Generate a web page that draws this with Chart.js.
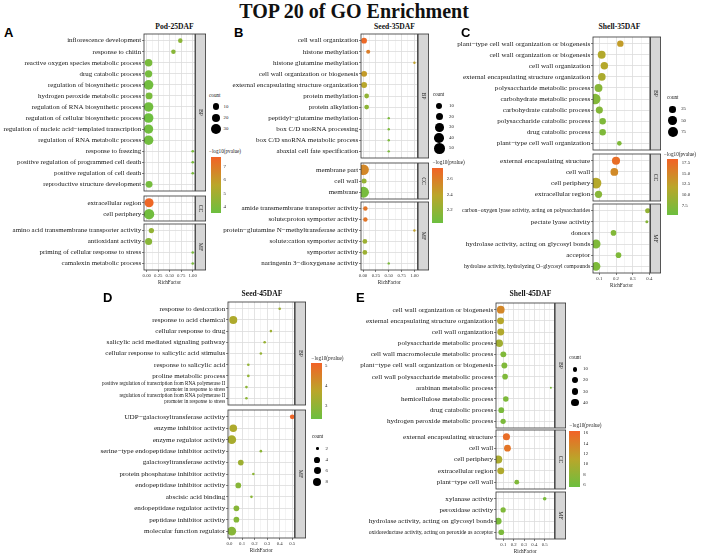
<!DOCTYPE html>
<html>
<head>
<meta charset="utf-8">
<script src="https://cdn.jsdelivr.net/npm/chart.js@4.4.0/dist/chart.umd.min.js"></script>
<style>
  body { margin: 0; background: #fff; width: 708px; height: 553px; position: relative; overflow: hidden; }
  canvas { position: absolute; }
</style>
</head>
<body>
<script>
// ---- data ----
const termsA = ['inflorescence development', 'response to chitin', 'reactive oxygen species metabolic process', 'drug catabolic process', 'regulation of biosynthetic process', 'hydrogen peroxide metabolic process', 'regulation of RNA biosynthetic process', 'regulation of cellular biosynthetic process', 'regulation of nucleic acid\u2212templated transcription', 'regulation of RNA metabolic process', 'response to freezing', 'positive regulation of programmed cell death', 'positive regulation of cell death', 'reproductive structure development', 'extracellular region', 'cell periphery', 'amino acid transmembrane transporter activity', 'antioxidant activity', 'priming of cellular response to stress', 'camalexin metabolic process'];
const ontA = ['BP','BP','BP','BP','BP','BP','BP','BP','BP','BP','BP','BP','BP','BP','CC','CC','MF','MF','MF','MF'];
const richA = [0.73, 0.58, 0.04, 0.04, 0.04, 0.05, 0.04, 0.04, 0.04, 0.04, 1, 1, 1, 0.05, 0.05, 0.05, 0.1, 0.04, 1, 1];
const countA = [3, 3, 14, 13, 28, 11, 27, 28, 25, 27, 1, 1, 1, 11, 24, 34, 5, 12, 1, 1];
const logpA = [4.4, 4.3, 3.9, 3.8, 3.7, 3.9, 3.7, 3.6, 3.7, 3.7, 3.9, 3.9, 3.9, 3.8, 7.6, 3.7, 4.6, 4.3, 3.9, 3.9];

const termsB = ['cell wall organization', 'histone methylation', 'histone glutamine methylation', 'cell wall organization or biogenesis', 'external encapsulating structure organization', 'protein methylation', 'protein alkylation', 'peptidyl\u2212glutamine methylation', 'box C/D snoRNA processing', 'box C/D snoRNA metabolic process', 'abaxial cell fate specification', 'membrane part', 'cell wall', 'membrane', 'amide transmembrane transporter activity', 'solute:proton symporter activity', 'protein\u2212glutamine N\u2212methyltransferase activity', 'solute:cation symporter activity', 'symporter activity', 'naringenin 3\u2212dioxygenase activity'];
const ontB = ['BP','BP','BP','BP','BP','BP','BP','BP','BP','BP','BP','CC','CC','CC','MF','MF','MF','MF','MF','MF'];
const richB = [0.02, 0.1, 1, 0.02, 0.02, 0.07, 0.07, 0.5, 0.5, 0.5, 0.5, 0.01, 0.02, 0.01, 0.045, 0.045, 1, 0.035, 0.035, 0.5];
const countB = [9, 3, 1, 10, 10, 5, 5, 1, 1, 1, 1, 50, 6, 52, 4, 4, 1, 5, 5, 1];
const logpB = [2.72, 2.6, 2.42, 2.45, 2.38, 2.2, 2.18, 2.1, 2.1, 2.1, 2.1, 2.55, 2.22, 2.08, 2.65, 2.65, 2.42, 2.25, 2.25, 2.1];

const termsC = ['plant\u2212type cell wall organization or biogenesis', 'cell wall organization or biogenesis', 'cell wall organization', 'external encapsulating structure organization', 'polysaccharide metabolic process', 'carbohydrate metabolic process', 'carbohydrate catabolic process', 'polysaccharide catabolic process', 'drug catabolic process', 'plant\u2212type cell wall organization', 'external encapsulating structure', 'cell wall', 'cell periphery', 'extracellular region', 'carbon\u2212oxygen lyase activity, acting on polysaccharides', 'pectate lyase activity', 'donors', 'hydrolase activity, acting on glycosyl bonds', 'acceptor', 'hydrolase activity, hydrolyzing O\u2212glycosyl compounds'];
const ontC = ['BP','BP','BP','BP','BP','BP','BP','BP','BP','BP','CC','CC','CC','CC','MF','MF','MF','MF','MF','MF'];
const richC = [0.226, 0.114, 0.13, 0.115, 0.095, 0.075, 0.1, 0.12, 0.12, 0.22, 0.2, 0.19, 0.08, 0.095, 0.39, 0.385, 0.185, 0.08, 0.215, 0.08];
const countC = [25, 42, 36, 38, 42, 92, 32, 26, 26, 12, 45, 40, 95, 34, 14, 8, 18, 60, 18, 55];
const logpC = [12.8, 11.2, 11.4, 10.6, 7.6, 7.3, 7.4, 7.0, 7.0, 7.0, 17.2, 14.5, 11.4, 7.6, 8.6, 7.6, 7.2, 7.0, 7.0, 6.8];

const termsD = ['response to desiccation', 'response to acid chemical', 'cellular response to drug', 'salicylic acid mediated signaling pathway', 'cellular response to salicylic acid stimulus', 'response to salicylic acid', 'proline metabolic process', 'positive regulation of transcription from RNA polymerase II\npromoter in response to stress', 'regulation of transcription from RNA polymerase II\npromoter in response to stress', 'UDP\u2212galactosyltransferase activity', 'enzyme inhibitor activity', 'enzyme regulator activity', 'serine\u2212type endopeptidase inhibitor activity', 'galactosyltransferase activity', 'protein phosphatase inhibitor activity', 'endopeptidase inhibitor activity', 'abscisic acid binding', 'endopeptidase regulator activity', 'peptidase inhibitor activity', 'molecular function regulator'];
const ontD = ['BP','BP','BP','BP','BP','BP','BP','BP','BP','MF','MF','MF','MF','MF','MF','MF','MF','MF','MF','MF'];
const richD = [0.40, 0.03, 0.33, 0.28, 0.25, 0.15, 0.15, 0.135, 0.135, 0.5, 0.03, 0.018, 0.25, 0.09, 0.19, 0.07, 0.175, 0.055, 0.055, 0.018];
const countD = [2, 8, 2, 2, 2, 2, 2, 2, 2, 3, 7, 10, 2, 4, 2, 4, 2, 4, 4, 10];
const logpD = [3.2, 3.5, 3.2, 3.1, 3.05, 3.0, 3.0, 2.9, 2.9, 5.05, 3.5, 3.4, 2.9, 3.2, 2.9, 2.8, 2.85, 2.8, 2.75, 2.8];

const termsE = ['cell wall organization or biogenesis', 'external encapsulating structure organization', 'cell wall organization', 'polysaccharide metabolic process', 'cell wall macromolecule metabolic process', 'plant\u2212type cell wall organization or biogenesis', 'cell wall polysaccharide metabolic process', 'arabinan metabolic process', 'hemicellulose metabolic process', 'drug catabolic process', 'hydrogen peroxide metabolic process', 'external encapsulating structure', 'cell wall', 'cell periphery', 'extracellular region', 'plant\u2212type cell wall', 'xylanase activity', 'peroxidase activity', 'hydrolase activity, acting on glycosyl bonds', 'oxidoreductase activity, acting on peroxide as acceptor'];
const ontE = ['BP','BP','BP','BP','BP','BP','BP','BP','BP','BP','BP','CC','CC','CC','CC','CC','MF','MF','MF','MF'];
const richE = [0.075, 0.073, 0.075, 0.06, 0.1, 0.11, 0.117, 0.56, 0.124, 0.08, 0.098, 0.13, 0.14, 0.05, 0.075, 0.23, 0.5, 0.098, 0.05, 0.08];
const countE = [40, 30, 30, 38, 20, 20, 18, 3, 17, 19, 15, 32, 29, 46, 30, 12, 6, 15, 30, 18];
const logpE = [13.5, 10.8, 10.4, 9.3, 7.0, 7.0, 6.9, 6.5, 6.8, 6.6, 6.7, 15.6, 15.0, 10.0, 10.3, 7.0, 6.5, 7.0, 6.6, 6.7];

// legend breaks
const countBreaksA = [10, 20, 30], colBreaksA = [4, 5, 6, 7];
const countBreaksB = [10, 20, 30, 40, 50], colBreaksB = [2.2, 2.4, 2.6];
const countBreaksC = [25, 50, 75], colBreaksC = [7.5, 10, 12.5, 15, 17.5];
const countBreaksD = [2, 4, 6, 8], colBreaksD = [3, 4, 5];
const countBreaksE = [10, 20, 30, 40], colBreaksE = [6, 8, 10, 12, 14, 16];

// ---- layout ----
const SERIF = '"Liberation Serif", "Times New Roman", serif';
Chart.defaults.font.family = SERIF;

const panels = [
  { letter: 'A', lx: 4, ly: 32, title: 'Pod-25DAF', tx: 174.5, ty: 27,
    terms: termsA, ont: ontA, rich: richA, count: countA, logp: logpA,
    canvasLeft: 0, plotL: 144, plotR: 195, stripW: 10, xmin: -0.06, xmax: 1.05,
    xmajor: [0, 0.25, 0.5, 0.75, 1], xdec: 2, font: 6.9,
    facets: { BP: [34.2, 191.4], CC: [196, 220.7], MF: [223.6, 269.2] },
    size: [1, 34, 1.3, 5.2], dom: [3.56, 7.74],
    countBreaks: countBreaksA, colBreaks: colBreaksA, colDec: 0,
    leg: { ct: [209, 96], cx: 216, cy0: 106.7, cstep: 11.3, clx: 223.5,
           lt: [209, 152], bar: [210.7, 156.7, 10, 56.6], blx: 223.5 } },
  { letter: 'B', lx: 234, ly: 32, title: 'Seed-35DAF', tx: 394.5, ty: 27,
    terms: termsB, ont: ontB, rich: richB, count: countB, logp: logpB,
    canvasLeft: 215, plotL: 361, plotR: 417, stripW: 10.5, xmin: -0.04, xmax: 1.06,
    xmajor: [0, 0.25, 0.5, 0.75, 1], xdec: 2, font: 7.0,
    facets: { BP: [34.4, 158.6], CC: [162.6, 198.4], MF: [201.6, 269.5] },
    size: [1, 52, 1.2, 5.4], dom: [2.03, 2.75],
    countBreaks: countBreaksB, colBreaks: colBreaksB, colDec: 1,
    leg: { ct: [432.7, 94.5], cx: 439.3, cy0: 106, cstep: 10.6, clx: 449,
           lt: [432.7, 162.8], bar: [432, 168, 11, 55], blx: 446.7 } },
  { letter: 'C', lx: 461, ly: 32, title: 'Shell-35DAF', tx: 619.5, ty: 27,
    terms: termsC, ont: ontC, rich: richC, count: countC, logp: logpC,
    canvasLeft: 440, plotL: 593, plotR: 650, stripW: 10, xmin: 0.062, xmax: 0.404,
    xmajor: [0.1, 0.2, 0.3, 0.4], xdec: 1, font: 7.1,
    labelFont: { 'carbon\u2212oxygen lyase activity, acting on polysaccharides': 5.7,
                 'hydrolase activity, acting on glycosyl bonds': 7.1,
                 'hydrolase activity, hydrolyzing O\u2212glycosyl compounds': 5.7 },
    facets: { BP: [36.7, 149.3], CC: [154, 200.7], MF: [204, 273.4] },
    size: [8, 95, 1.5, 5.4], dom: [5.4, 18.3],
    countBreaks: countBreaksC, colBreaks: colBreaksC, colDec: 1,
    leg: { ct: [667, 98], cx: 672.7, cy0: 109.3, cstep: 11.2, clx: 681.2,
           lt: [664, 154.5], bar: [667.3, 159.3, 11, 55.7], blx: 681.7 } },
  { letter: 'D', lx: 103, ly: 297, title: 'Seed-45DAF', tx: 262, ty: 294,
    terms: termsD, ont: ontD, rich: richD, count: countD, logp: logpD,
    canvasLeft: 60, plotL: 228, plotR: 294, stripW: 10.5, xmin: -0.012, xmax: 0.518,
    xmajor: [0, 0.1, 0.2, 0.3, 0.4, 0.5], xdec: 1, font: 7.1,
    labelFont: { 'positive regulation of transcription from RNA polymerase II\npromoter in response to stress': 5.1,
                 'regulation of transcription from RNA polymerase II\npromoter in response to stress': 5.1 },
    facets: { BP: [302.3, 405.7], MF: [410, 538] },
    size: [2, 10, 1.3, 4.4], dom: [2.32, 5.12],
    countBreaks: countBreaksD, colBreaks: colBreaksD, colDec: 0,
    leg: { ct: [311.7, 437.3], cx: 317.3, cy0: 448.7, cstep: 11.1, clx: 325.5,
           lt: [311.5, 358.7], bar: [311, 363.3, 11, 56], blx: 325 } },
  { letter: 'E', lx: 356, ly: 297, title: 'Shell-45DAF', tx: 530.5, ty: 294,
    terms: termsE, ont: ontE, rich: richE, count: countE, logp: logpE,
    canvasLeft: 330, plotL: 496, plotR: 554, stripW: 10.5, xmin: 0.029, xmax: 0.595,
    xmajor: [0.1, 0.2, 0.3, 0.4, 0.5], xdec: 1, font: 7.1,
    labelFont: { 'oxidoreductase activity, acting on peroxide as acceptor': 5.7 },
    facets: { BP: [302.6, 427.4], CC: [430.3, 488.8], MF: [492, 538.7] },
    size: [3, 46, 1.0, 4.1], dom: [5.6, 16.5],
    countBreaks: countBreaksE, colBreaks: colBreaksE, colDec: 0,
    leg: { ct: [569.3, 358.3], cx: 575, cy0: 369.3, cstep: 11.1, clx: 583,
           lt: [569.5, 425.7], bar: [569.3, 430.7, 10.7, 56.6], blx: 583.3 } }
];

// ---- scales ----
const GREEN = [108, 191, 63], OLIVE = [186, 166, 42], ORANGE = [242, 98, 38];
function colorFor(v, dom) {
  let t = (v - dom[0]) / (dom[1] - dom[0]);
  t = Math.min(1, Math.max(0, t));
  const a = t < 0.5 ? GREEN : OLIVE, b = t < 0.5 ? OLIVE : ORANGE;
  const u = t < 0.5 ? t / 0.5 : (t - 0.5) / 0.5;
  return 'rgb(' + a.map((c, i) => Math.round(c + (b[i] - c) * u)).join(',') + ')';
}
function rgb(c) { return 'rgb(' + c.join(',') + ')'; }
function radiusFor(c, s) {
  const t = Math.max(0, (c - s[0]) / (s[1] - s[0]));
  return s[2] + (s[3] - s[2]) * Math.sqrt(t);
}

// panel border + facet strip
const stripPlugin = {
  id: 'strip',
  afterDraw(chart, args, opts) {
    const { ctx, chartArea: a } = chart;
    ctx.save();
    ctx.strokeStyle = '#333';
    ctx.lineWidth = 0.8;
    ctx.strokeRect(a.left, a.top, a.right - a.left, a.bottom - a.top);
    const sx = a.right + 0.6, sw = opts.width;
    ctx.fillStyle = '#d6d6d6';
    ctx.fillRect(sx, a.top, sw, a.bottom - a.top);
    ctx.strokeRect(sx, a.top, sw, a.bottom - a.top);
    ctx.translate(sx + sw / 2, (a.top + a.bottom) / 2);
    ctx.rotate(Math.PI / 2);
    ctx.fillStyle = '#1a1a1a';
    ctx.font = '5.8px ' + SERIF;
    ctx.textAlign = 'center';
    ctx.textBaseline = 'middle';
    ctx.fillText(opts.label, 0, 0);
    ctx.restore();
  }
};

function facetChart(P, ont, isLast) {
  const [top, bottom] = P.facets[ont];
  const idx = P.ont.map((o, i) => (o === ont ? i : -1)).filter(i => i >= 0);
  const labels = idx.map(i => P.terms[i]);
  const n = labels.length;
  const padT = 10, padB = isLast ? 0 : 10, xH = isLast ? 16 : 0;
  const left = P.canvasLeft;
  const padR = P.stripW + 4;
  const cv = document.createElement('canvas');
  cv.width = Math.ceil(P.plotR + padR - left);
  cv.height = Math.round(bottom - top + padT + padB + xH);
  cv.style.left = left + 'px';
  cv.style.top = (top - padT) + 'px';
  document.body.appendChild(cv);

  const step = P.xmajor[1] - P.xmajor[0];
  const xticks = [];
  P.xmajor.forEach(v => xticks.push(v));
  [P.xmajor[0] - step / 2].concat(P.xmajor.map(v => v + step / 2)).forEach(v => {
    if (v > P.xmin && v < P.xmax) xticks.push(v);
  });
  xticks.sort((a, b) => a - b);
  const isMajor = v => P.xmajor.some(m => Math.abs(m - v) < 1e-9);

  new Chart(cv, {
    type: 'bubble',
    data: {
      datasets: [{
        data: idx.map((i, k) => ({ x: P.rich[i], y: k, r: radiusFor(P.count[i], P.size), p: P.logp[i] })),
        backgroundColor: ctx => colorFor(ctx.raw.p, P.dom),
        borderWidth: 0
      }]
    },
    options: {
      responsive: false,
      animation: false,
      events: [],
      layout: { padding: { top: padT, bottom: padB, left: 0, right: padR } },
      plugins: { legend: { display: false }, tooltip: { enabled: false }, strip: { label: ont, width: P.stripW } },
      scales: {
        x: {
          type: 'linear', min: P.xmin, max: P.xmax,
          afterBuildTicks: s => { s.ticks = xticks.map(v => ({ value: v })); },
          afterFit: s => { s.height = xH; },
          border: { display: false },
          grid: {
            color: c => (c.tick && isMajor(c.tick.value) ? '#dcdcdc' : '#e9e9e9'),
            lineWidth: c => (c.tick && isMajor(c.tick.value) ? 0.8 : 0.5),
            drawTicks: isLast, tickLength: 2,
            tickColor: c => (c.tick && isMajor(c.tick.value) ? '#333' : 'rgba(0,0,0,0)'),
            tickWidth: 0.6
          },
          ticks: {
            display: isLast, autoSkip: false, maxRotation: 0, padding: 0.5,
            color: '#333', font: { size: 4.8 },
            callback: v => (isMajor(v) ? v.toFixed(P.xdec) : '')
          },
          title: { display: isLast, text: 'RichFactor', color: '#222', font: { size: 5.2 }, padding: 0 }
        },
        y: {
          type: 'linear', reverse: true, min: -0.6, max: n - 0.4,
          afterBuildTicks: s => { s.ticks = labels.map((_, k) => ({ value: k })); },
          afterFit: s => { s.width = P.plotL - left; },
          border: { display: false },
          grid: { color: '#dcdcdc', lineWidth: 0.8, tickLength: 2, tickColor: '#333', tickWidth: 0.6 },
          ticks: {
            autoSkip: false, padding: 0.8, color: '#151515',
            font: c => {
              const lab = c.tick ? labels[c.tick.value] : null;
              const sz = (P.labelFont && lab && P.labelFont[lab]) || P.font;
              return { size: sz, family: SERIF, lineHeight: 1.15 };
            },
            callback: v => {
              const s = labels[v];
              return s && s.indexOf('\n') >= 0 ? s.split('\n') : s;
            }
          }
        }
      }
    },
    plugins: [stripPlugin]
  });
}

// ---- html text helpers ----
function put(x, y, txt, px, o) {
  o = o || {};
  const d = document.createElement('div');
  d.textContent = txt;
  d.style.cssText = 'position:absolute;left:' + x + 'px;top:' + y + 'px;font:' + (o.bold ? 'bold ' : '') + px + 'px ' +
    (o.family || SERIF) + ';color:' + (o.color || '#222') + ';white-space:nowrap;line-height:1;transform:translate(' +
    (o.center ? '-50%' : '0') + ',-50%);';
  document.body.appendChild(d);
}
function box(x, y, w, h, css) {
  const d = document.createElement('div');
  d.style.cssText = 'position:absolute;left:' + x + 'px;top:' + y + 'px;width:' + w + 'px;height:' + h + 'px;' + css;
  document.body.appendChild(d);
}

function legend(P) {
  const L = P.leg;
  put(L.ct[0], L.ct[1], 'count', 5.2);
  P.countBreaks.forEach((c, i) => {
    const y = L.cy0 + i * L.cstep, r = radiusFor(c, P.size);
    box(L.cx - r, y - r, 2 * r, 2 * r, 'background:#000;border-radius:50%;');
    put(L.clx, y, String(c), 4.8);
  });
  put(L.lt[0], L.lt[1], '\u2212log10(pvalue)', 5.2);
  const [bx, by, bw, bh] = L.bar;
  box(bx, by, bw, bh, 'background:linear-gradient(to top,' + rgb(GREEN) + ',' + rgb(OLIVE) + ',' + rgb(ORANGE) + ');');
  P.colBreaks.forEach(v => {
    const y = by + bh - (v - P.dom[0]) / (P.dom[1] - P.dom[0]) * bh;
    put(L.blx, y, v.toFixed(P.colDec), 4.8);
  });
}

// ---- build ----
put(354, 11, 'TOP 20 of GO Enrichment', 20, { bold: true, center: true, color: '#111' });
panels.forEach(P => {
  put(P.lx, P.ly, P.letter, 13, { bold: true, family: '"Liberation Sans", Arial, sans-serif', color: '#000' });
  put(P.tx, P.ty, P.title, 7.6, { bold: true, center: true, color: '#111' });
  const onts = Object.keys(P.facets);
  onts.forEach((o, i) => facetChart(P, o, i === onts.length - 1));
  legend(P);
});
</script>
</body>
</html>
